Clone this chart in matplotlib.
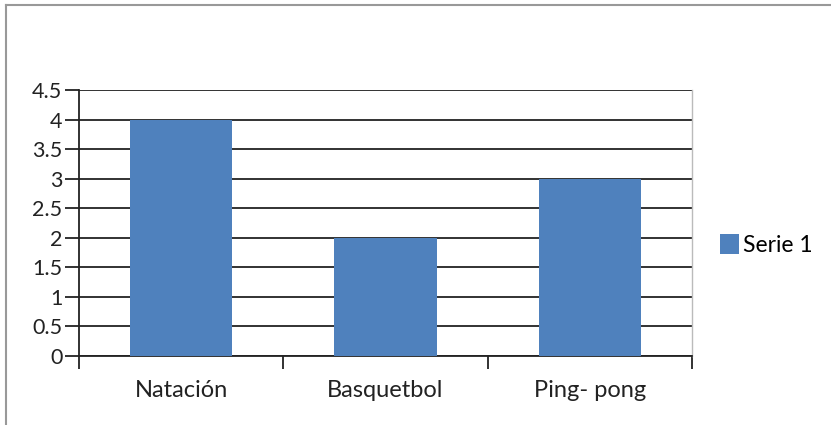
import matplotlib
matplotlib.use("Agg")
import matplotlib.pyplot as plt
from matplotlib.lines import Line2D
from matplotlib.patches import Patch

categories = ["Natación", "Basquetbol", "Ping- pong"]
serie1 = [4, 2, 3]
series_name = "Serie 1"
yticks = [0, 0.5, 1, 1.5, 2, 2.5, 3, 3.5, 4, 4.5]
ytick_labels = ["0", "0.5", "1", "1.5", "2", "2.5", "3", "3.5", "4", "4.5"]

plt.rcParams['font.family'] = ['Lato', 'DejaVu Sans']
W, H = 831, 425
fig = plt.figure(figsize=(W / 100, H / 100), dpi=100)
ax = fig.add_axes([79 / W, (H - 356) / H, (692 - 79) / W, (356 - 90) / H])

bar_color = "#4F81BD"
x = list(range(len(categories)))
ax.bar(x, serie1, width=0.5, color=bar_color, zorder=3)
ax.set_xlim(-0.5, len(categories) - 0.5)
ax.set_ylim(0, 4.5)

ax.set_yticks(yticks)
ax.set_yticklabels(ytick_labels, fontsize=15.5, color="#222222")
ax.yaxis.grid(True, color="#222222", linewidth=1.3, zorder=0)
ax.set_axisbelow(True)

ax.set_xticks([i - 0.5 for i in range(len(categories) + 1)])
ax.set_xticklabels([])
ax.set_xticks(x, minor=True)
ax.set_xticklabels(categories, minor=True, fontsize=17, color="#222222")
ax.tick_params(axis='x', which='major', direction='out', length=9, width=1.3, color="#222222")
ax.tick_params(axis='x', which='minor', length=0, pad=17)
ax.tick_params(axis='y', direction='out', length=10, width=1.3, color="#222222", pad=2)

for s in ["left", "bottom"]:
    ax.spines[s].set_color("#222222")
    ax.spines[s].set_linewidth(1.3)
ax.spines["top"].set_visible(False)
ax.spines["right"].set_color("#BBBBBB")
ax.spines["right"].set_linewidth(1.0)

handles = [Patch(facecolor=bar_color, edgecolor="none", label=series_name)]
fig.legend(handles=handles, loc="center left", bbox_to_anchor=(711 / W, 1 - 245 / H),
           frameon=False, fontsize=16.5, handlelength=0.8, handleheight=0.95,
           handletextpad=0.2, borderaxespad=0)

# outer border (top and left)
fig.add_artist(Line2D([6 / W, 1], [1 - 5 / H, 1 - 5 / H], color="#999999", linewidth=1.5))
fig.add_artist(Line2D([6 / W, 6 / W], [0, 1 - 5 / H], color="#999999", linewidth=1.5))

fig.savefig("out.png", dpi=100)
